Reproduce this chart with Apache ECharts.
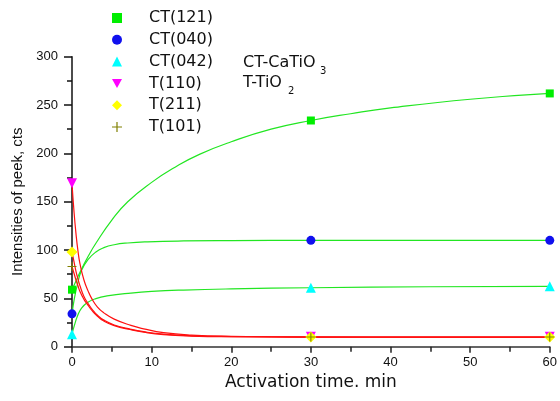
<!DOCTYPE html>
<html>
<head>
<meta charset="utf-8">
<script src="https://cdn.jsdelivr.net/npm/echarts@6/dist/echarts.min.js"></script>
<style>
  html, body { margin: 0; padding: 0; background: #fff; }
  #chart { width: 560px; height: 401px; }
</style>
</head>
<body>
<div id="chart"></div>
<script>
// measured points (activation time, min)
const times = [0, 30, 60];
const ct121 = [59, 234, 262];
const ct040 = [34, 110, 110];
const ct042 = [13, 61, 62.5];
const t110 = [169, 10.2, 10.2];
const t211 = [98, 10, 10];
const t101 = [83, 10, 10];

// fitted curves as [time, intensity]
const ct121Fit = [[0, 59], [0.5, 68], [1, 77], [2, 93], [3, 107], [5, 131], [7, 150], [10, 170], [13, 186], [16, 199], [20, 212], [25, 225], [30, 234], [35, 241], [40, 247], [50, 256], [60, 262]];
const ct040Fit = [[0, 34], [0.3, 50], [0.7, 65], [1.2, 79], [2, 90], [3, 98], [4, 102.5], [5.3, 105.5], [7, 107.3], [9.5, 108.5], [14, 109.4], [20, 109.8], [30, 110], [60, 110]];
const ct042Fit = [[0, 13], [0.3, 22], [0.7, 32], [1.2, 40], [2, 46], [3, 49.8], [4.4, 52.5], [7.4, 55.5], [10, 57.2], [14, 58.6], [20, 59.8], [30, 61], [45, 62], [60, 62.5]];
const t110Fit = [[0, 169], [0.25, 140], [0.5, 117], [0.75, 99], [1, 86], [1.5, 69], [2, 58], [2.5, 49.5], [3.2, 41], [4, 35], [5.3, 28.5], [7.4, 22], [9, 18.5], [11.5, 14.5], [15, 12], [20, 10.8], [30, 10.2], [45, 10], [60, 10]];
const t211Fit = [[0, 98], [0.25, 88], [0.5, 78], [0.75, 70], [1, 63], [1.5, 52], [2, 45], [2.5, 39], [3.2, 32.5], [4, 27.5], [5.3, 22.5], [7.4, 18], [9, 15.5], [11.5, 13], [15, 11.3], [20, 10.5], [30, 10], [60, 10]];
const t101Fit = [[0, 83], [0.25, 76], [0.5, 69], [0.75, 63], [1, 57], [1.5, 49], [2, 43], [2.5, 37.5], [3.2, 31.5], [4, 26.5], [5.3, 21.8], [7.4, 17.5], [9, 15], [11.5, 12.5], [15, 11], [20, 10.3], [30, 10], [60, 10]];

const names = ['CT(121)', 'CT(040)', 'CT(042)', 'T(110)', 'T(211)', 'T(101)'];

const FONT = 'Liberation Sans, Arial, sans-serif';
const WIDE = 'DejaVu Sans, sans-serif';
const GREEN = '#22e622';
const RED = '#ff1010';
const PLUS = 'path://M4.4,0H5.6V4.4H10V5.6H5.6V10H4.4V5.6H0V4.4H4.4Z';
const DOWN = 'path://M0,0H10L5,9Z';

const zip = (vals) => times.map((t, i) => [t, vals[i]]);

const fitLine = (id, data, color) => ({
  id, type: 'line', data, smooth: 0.5,
  showSymbol: false, silent: true,
  lineStyle: { color, width: 1.2 }, z: 2
});

const marks = (name, vals, symbol, size, color) => ({
  name, type: 'scatter', data: zip(vals), symbol, symbolSize: size,
  itemStyle: { color, opacity: 1 }, z: 3
});

const txt = (text, left, top, size) => ({
  type: 'text', left, top,
  style: { text, fontFamily: WIDE, fontSize: size, fill: '#111' }
});

const chart = echarts.init(document.getElementById('chart'), null, { renderer: 'canvas' });

chart.setOption({
  animation: false,
  backgroundColor: '#fff',
  grid: { left: 72, right: 10, top: 56.7, bottom: 54.3 },
  legend: {
    orient: 'vertical', left: 107, top: 5,
    itemWidth: 10, itemHeight: 10, itemGap: 5.8,
    selectedMode: false,
    data: names,
    textStyle: { fontFamily: WIDE, fontSize: 16, color: '#111', padding: [0, 0, 0, 22] }
  },
  graphic: [
    txt('CT-CaTiO', 243, 55, 16),
    txt('3', 320, 66, 10),
    txt('T-TiO', 243, 75, 16),
    txt('2', 288, 86, 10)
  ],
  xAxis: {
    type: 'value', min: 0, max: 60, interval: 10,
    name: 'Activation time. min', nameLocation: 'middle', nameGap: 27,
    nameTextStyle: { fontFamily: WIDE, fontSize: 17, color: '#111' },
    axisLine: { show: true, lineStyle: { color: '#333', width: 1.5 } },
    axisTick: { show: true, inside: false, length: 6, lineStyle: { color: '#222', width: 1.5 } },
    minorTick: { show: true, splitNumber: 2, length: 5, lineStyle: { color: '#222', width: 1.5 } },
    axisLabel: { fontFamily: FONT, fontSize: 13, color: '#111', margin: 9 },
    splitLine: { show: false }
  },
  yAxis: {
    type: 'value', min: 0, max: 300, interval: 50,
    name: 'Intensities of peek, cts', nameLocation: 'middle', nameGap: 47,
    nameTextStyle: { fontFamily: FONT, fontSize: 15, color: '#111' },
    axisLine: { show: true, lineStyle: { color: '#111', width: 1.5 } },
    axisTick: { show: true, inside: false, length: 8, lineStyle: { color: '#111', width: 1.5 } },
    minorTick: { show: true, splitNumber: 2, length: 5, lineStyle: { color: '#111', width: 1.5 } },
    axisLabel: { fontFamily: FONT, fontSize: 13, color: '#111', margin: 14 },
    splitLine: { show: false }
  },
  series: [
    fitLine('fit121', ct121Fit, GREEN),
    fitLine('fit040', ct040Fit, GREEN),
    fitLine('fit042', ct042Fit, GREEN),
    fitLine('fit110', t110Fit, RED),
    fitLine('fit211', t211Fit, RED),
    fitLine('fit101', t101Fit, RED),
    marks(names[0], ct121, 'rect', 8, '#00ee00'),
    marks(names[1], ct040, 'circle', 9, '#1010ee'),
    marks(names[2], ct042, 'triangle', 10, '#00ffff'),
    marks(names[3], t110, DOWN, 10, '#ff00ff'),
    marks(names[4], t211, 'diamond', 11, '#ffff00'),
    marks(names[5], t101, PLUS, 9, '#808000')
  ]
});
</script>
</body>
</html>
